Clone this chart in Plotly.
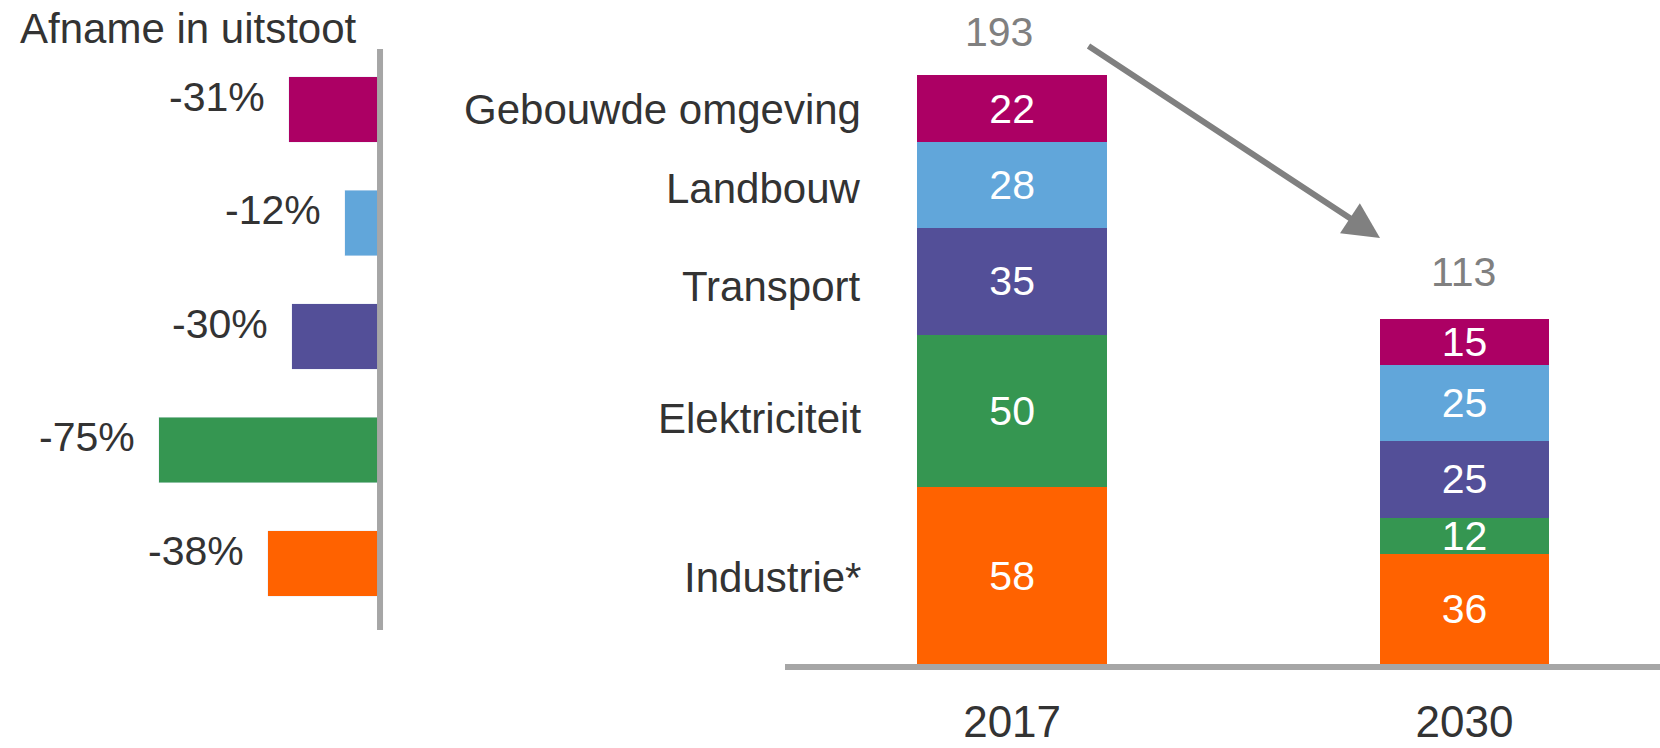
import plotly.graph_objects as go

# sectoren (van boven naar beneden)
categories = ["Gebouwde omgeving", "Landbouw", "Transport", "Elektriciteit", "Industrie*"]
reduction = [-31, -12, -30, -75, -38]

years = ["2017", "2030"]
gebouwde = [22, 15]
landbouw = [28, 25]
transport = [35, 25]
elektriciteit = [50, 12]
industrie = [58, 36]

colors = {
    "Gebouwde omgeving": "#AC0064",
    "Landbouw": "#61A6DA",
    "Transport": "#534F98",
    "Elektriciteit": "#359651",
    "Industrie*": "#FF6200",
}
FONT = "Liberation Sans, Arial, sans-serif"
DARK = "#333333"
GREY = "#808080"
AXIS = "#A6A6A6"

series = {
    "Gebouwde omgeving": gebouwde,
    "Landbouw": landbouw,
    "Transport": transport,
    "Elektriciteit": elektriciteit,
    "Industrie*": industrie,
}
totals = [sum(v) for v in zip(*series.values())]

fig = go.Figure()

# links: afname per sector
fig.add_trace(go.Bar(
    x=reduction,
    y=categories,
    orientation="h",
    marker_color=[colors[c] for c in categories],
    width=0.573,
    xaxis="x",
    yaxis="y",
    showlegend=False,
    hovertemplate="%{y}: %{x}%<extra></extra>",
))

# rechts: gestapelde uitstoot, onderste sector eerst
for name in reversed(categories):
    fig.add_trace(go.Bar(
        x=years,
        y=series[name],
        name=name,
        marker_color=colors[name],
        marker_line_width=0,
        width=[0.42, 0.373],
        text=series[name],
        textposition="inside",
        insidetextanchor="middle",
        textangle=0,
        constraintext="none",
        textfont=dict(color="white", size=41, family=FONT),
        xaxis="x2",
        yaxis="y2",
        showlegend=False,
    ))

annotations = [
    dict(text="Afname in uitstoot", xref="paper", yref="paper", x=0.0108, y=1 - 28 / 748,
         xanchor="left", yanchor="middle", showarrow=False,
         font=dict(size=42, color=DARK, family=FONT)),
]
for c, r in zip(categories, reduction):
    annotations.append(dict(
        text=f"{r}%", x=r, y=c, xref="x", yref="y", xanchor="right", yanchor="middle",
        xshift=-22, yshift=13, showarrow=False, font=dict(size=41, color=DARK, family=FONT)))

label_y = [109, 188, 286, 418, 577]
for c, ly in zip(categories, label_y):
    annotations.append(dict(
        text=c, xref="paper", yref="paper", x=863 / 1660, y=1 - ly / 748,
        xanchor="right", yanchor="middle", showarrow=False,
        font=dict(size=42, color=DARK, family=FONT)))

for i, (tot, dx, dy) in enumerate(zip(totals, [-13, -1], [43, 47])):
    annotations.append(dict(
        text=str(tot), x=i, y=tot, xref="x2", yref="y2", xanchor="center", yanchor="middle",
        xshift=dx, yshift=dy, showarrow=False, font=dict(size=41, color=GREY, family=FONT)))

# pijl van 2017 naar 2030
annotations.append(dict(
    text="", xref="paper", yref="paper", x=1380 / 1660, y=1 - 238 / 748,
    ax=-293, ay=-193, showarrow=True, arrowhead=2, arrowsize=1.2, arrowwidth=6,
    arrowcolor=GREY, standoff=0))

fig.update_layout(
    width=1660,
    height=748,
    margin=dict(l=0, r=0, t=0, b=0),
    paper_bgcolor="white",
    plot_bgcolor="white",
    barmode="stack",
    font=dict(family=FONT, color=DARK),
    annotations=annotations,
    shapes=[dict(type="line", xref="x", yref="paper", x0=0, x1=0,
                 y0=1 - 630 / 748, y1=1 - 49 / 748, line=dict(color=AXIS, width=6))],
    xaxis=dict(domain=[0, 384 / 1660], range=[-128.85, 1.35], anchor="y", showgrid=False,
               showticklabels=False, zeroline=False, automargin=False),
    yaxis=dict(domain=[1 - 620.25 / 748, 1 - 52.75 / 748], range=[4.5, -0.5], anchor="x",
               showgrid=False, showticklabels=False, zeroline=False, automargin=False),
    xaxis2=dict(type="category", domain=[785 / 1660, 1], range=[-0.502, 1.432], anchor="y2",
                showgrid=False, showline=True, linecolor=AXIS, linewidth=6,
                ticks="outside", ticklen=14, tickcolor="rgba(0,0,0,0)",
                tickfont=dict(size=44, color=DARK, family=FONT), automargin=False),
    yaxis2=dict(domain=[1 - 664 / 748, 1], range=[0, 664 / 3.05], anchor="x2",
                showgrid=False, showticklabels=False, zeroline=False, automargin=False),
)

fig.write_html("out.html", config={"displayModeBar": False},
               post_script="document.body.style.margin = '0';")
